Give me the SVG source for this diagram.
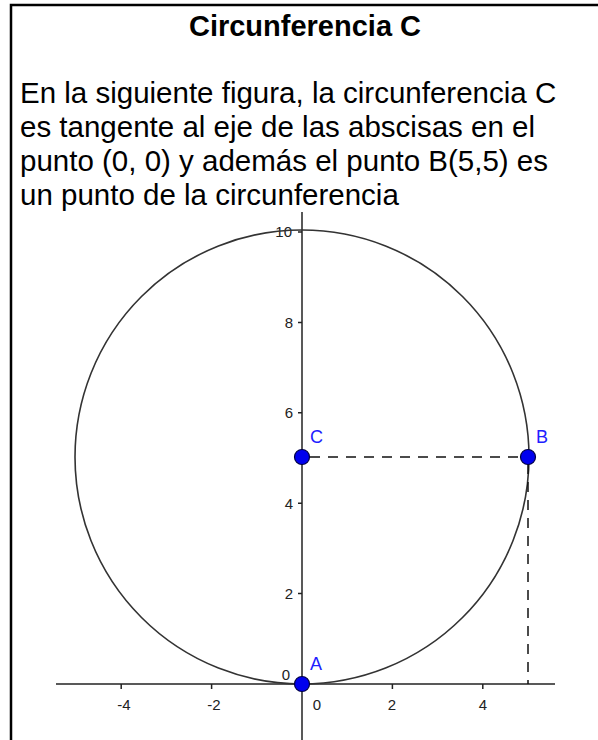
<svg xmlns="http://www.w3.org/2000/svg" width="598" height="740" viewBox="0 0 598 740">
<style>
.title{font-family:"Liberation Sans",Arial,sans-serif;font-weight:bold;font-size:29px;fill:#000}
.body{font-family:"Liberation Sans",Arial,sans-serif;font-size:29.5px;fill:#000}
.tick{font-family:"Liberation Sans",Arial,sans-serif;font-size:15px;fill:#222}
.lbl{font-family:"Liberation Sans",Arial,sans-serif;font-size:18px;fill:#2020ff}
.axis{stroke:#222;stroke-width:1.5;fill:none}
.dash{stroke:#111;stroke-width:1.5;stroke-dasharray:10 8;fill:none}
.pt{fill:#0000ee;stroke:#000044;stroke-width:1.2}
</style>
<rect width="598" height="740" fill="#fff"/>
<path d="M11 740 V5 H598" fill="none" stroke="#000" stroke-width="2.5"/>
<text class="title" x="305" y="36" text-anchor="middle">Circunferencia C</text>
<g id="texto">
<text class="body" x="20" y="103">En la siguiente figura, la circunferencia C</text>
<text class="body" x="20" y="137">es tangente al eje de las abscisas en el</text>
<text class="body" x="20" y="171">punto (0, 0) y además el punto B(5,5) es</text>
<text class="body" x="20" y="205">un punto de la circunferencia</text>
</g>
<g id="ejes">
<line class="axis" x1="56" y1="684" x2="555" y2="684"/>
<line class="axis" x1="302" y1="212" x2="302" y2="740"/>
<path class="axis" d="M121.2 684v5M211.6 684v5M392.4 684v5M482.8 684v5M302 593.6h-4M302 503.2h-4M302 412.8h-4M302 322.4h-4M302 232h-4"/>
<text class="tick" x="124" y="710" text-anchor="middle">-4</text>
<text class="tick" x="214" y="710" text-anchor="middle">-2</text>
<text class="tick" x="317" y="710" text-anchor="middle">0</text>
<text class="tick" x="392" y="710" text-anchor="middle">2</text>
<text class="tick" x="483" y="710" text-anchor="middle">4</text>
<text class="tick" x="290" y="680" text-anchor="end">0</text>
<text class="tick" x="293" y="599" text-anchor="end">2</text>
<text class="tick" x="293" y="509" text-anchor="end">4</text>
<text class="tick" x="293" y="418" text-anchor="end">6</text>
<text class="tick" x="293" y="328" text-anchor="end">8</text>
<text class="tick" x="292" y="237" text-anchor="end">10</text>
</g>
<g id="circunferencia">
<circle cx="302" cy="457" r="227" fill="none" stroke="#333" stroke-width="1.6"/>
</g>
<g id="conectores">
<line class="dash" x1="310" y1="457" x2="522" y2="457"/>
<line class="dash" x1="528" y1="464" x2="528" y2="684"/>
</g>
<g id="punto-A">
<circle class="pt" cx="302" cy="684" r="7.5"/>
<text class="lbl" x="310" y="670">A</text>
</g>
<g id="punto-C">
<circle class="pt" cx="302" cy="457" r="7.5"/>
<text class="lbl" x="310" y="443">C</text>
</g>
<g id="punto-B">
<circle class="pt" cx="528" cy="457" r="7.5"/>
<text class="lbl" x="536" y="443">B</text>
</g>
</svg>
